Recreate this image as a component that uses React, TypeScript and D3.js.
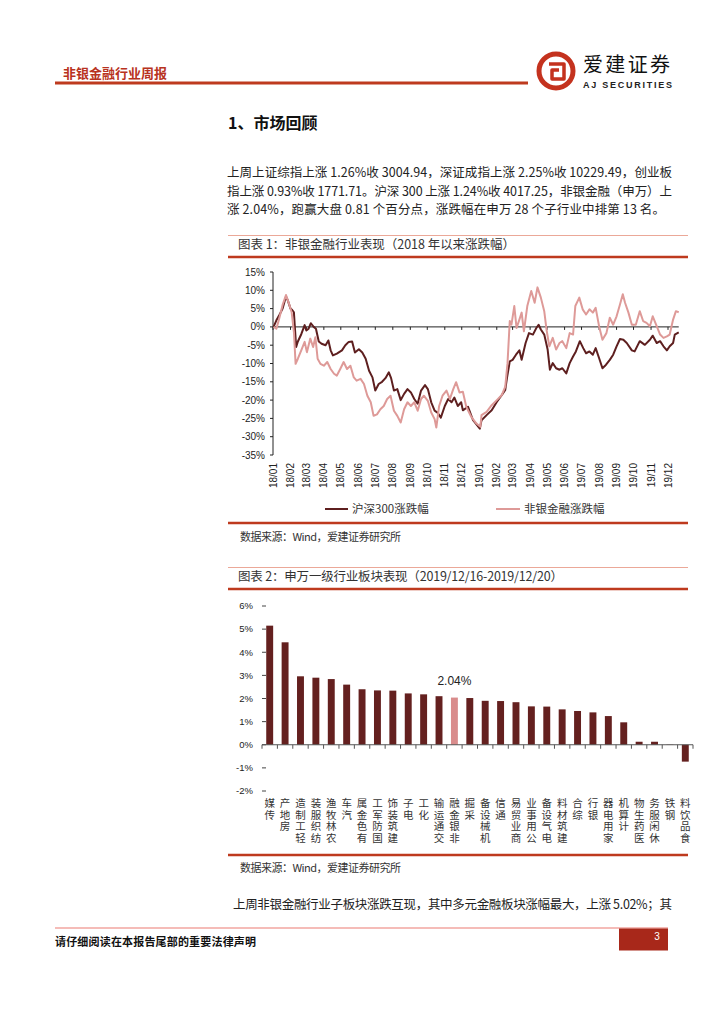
import React from 'react';
import * as d3 from 'd3';

// ---------- Data ----------
const paragraphLines = [
  '上周上证综指上涨 1.26%收 3004.94，深证成指上涨 2.25%收 10229.49，创业板',
  '指上涨 0.93%收 1771.71。沪深 300 上涨 1.24%收 4017.25，非银金融（申万）上',
  '涨 2.04%，跑赢大盘 0.81 个百分点，涨跌幅在申万 28 个子行业中排第 13 名。',
];

const monthLabels = [
  '18/01', '18/02', '18/03', '18/04', '18/05', '18/06', '18/07', '18/08', '18/09', '18/10', '18/11', '18/12',
  '19/01', '19/02', '19/03', '19/04', '19/05', '19/06', '19/07', '19/08', '19/09', '19/10', '19/11', '19/12',
];
const yTicks1 = [15, 10, 5, 0, -5, -10, -15, -20, -25, -30, -35];

const hs300Series: [string, number][] = [
  ['2018-01-02', 0], ['2018-01-07', 1.8], ['2018-01-12', 3.2], ['2018-01-18', 5.0], ['2018-01-24', 8.3],
  ['2018-01-27', 7.3], ['2018-02-01', 5.0], ['2018-02-04', 4.6], ['2018-02-07', 4.0], ['2018-02-11', -5.5],
  ['2018-02-14', -4.0], ['2018-02-20', -2.0], ['2018-02-26', 0.5], ['2018-03-01', -1.0], ['2018-03-05', -0.5],
  ['2018-03-09', 1.0], ['2018-03-14', 0], ['2018-03-18', -0.5], ['2018-03-23', -4.0], ['2018-03-28', -4.6],
  ['2018-04-04', -5.0], ['2018-04-09', -3.7], ['2018-04-13', -6.4], ['2018-04-17', -7.8], ['2018-04-24', -7.3],
  ['2018-05-03', -6.4], ['2018-05-09', -5.0], ['2018-05-15', -4.1], ['2018-05-21', -4.0], ['2018-05-26', -7.0],
  ['2018-06-02', -6.1], ['2018-06-08', -7.0], ['2018-06-14', -8.7], ['2018-06-20', -12.0], ['2018-06-26', -13.8],
  ['2018-07-01', -17.4], ['2018-07-07', -15.6], ['2018-07-13', -15.0], ['2018-07-19', -14.0], ['2018-07-25', -12.4],
  ['2018-07-29', -14.0], ['2018-08-03', -17.4], ['2018-08-09', -17.0], ['2018-08-15', -20.0], ['2018-08-21', -18.3],
  ['2018-08-27', -17.0], ['2018-09-02', -17.9], ['2018-09-08', -19.7], ['2018-09-14', -21.0], ['2018-09-20', -17.4],
  ['2018-09-27', -15.9], ['2018-10-02', -17.0], ['2018-10-08', -20.6], ['2018-10-14', -22.9], ['2018-10-19', -23.4],
  ['2018-10-25', -24.8], ['2018-11-01', -21.6], ['2018-11-07', -19.7], ['2018-11-13', -20.6], ['2018-11-18', -19.3],
  ['2018-11-24', -21.6], ['2018-11-30', -20.6], ['2018-12-03', -22.8], ['2018-12-12', -21.8], ['2018-12-21', -25.5],
  ['2019-01-02', -27.8], ['2019-01-05', -25.5], ['2019-01-14', -24.1], ['2019-01-23', -22.8], ['2019-02-01', -20.5],
  ['2019-02-10', -18.6], ['2019-02-16', -17.2], ['2019-02-19', -14.0], ['2019-02-24', -9.4], ['2019-03-01', -9.0],
  ['2019-03-07', -7.6], ['2019-03-13', -6.4], ['2019-03-17', -9.0], ['2019-03-24', -4.4], ['2019-03-30', -1.7],
  ['2019-04-06', -2.1], ['2019-04-12', -0.3], ['2019-04-16', 0.6], ['2019-04-20', -0.7], ['2019-04-26', -2.1],
  ['2019-05-02', -6.2], ['2019-05-06', -11.7], ['2019-05-11', -9.9], ['2019-05-17', -11.3], ['2019-05-23', -11.7],
  ['2019-05-28', -11.3], ['2019-06-04', -12.7], ['2019-06-10', -9.9], ['2019-06-16', -8.1], ['2019-06-21', -6.7],
  ['2019-06-28', -3.9], ['2019-07-04', -5.8], ['2019-07-09', -7.2], ['2019-07-15', -6.7], ['2019-07-21', -7.6],
  ['2019-07-26', -5.8], ['2019-08-01', -8.5], ['2019-08-07', -11.3], ['2019-08-13', -10.4], ['2019-08-20', -9.0],
  ['2019-08-26', -7.6], ['2019-09-01', -5.3], ['2019-09-07', -3.3], ['2019-09-13', -3.5], ['2019-09-19', -4.4],
  ['2019-09-28', -6.4], ['2019-10-03', -6.7], ['2019-10-12', -3.9], ['2019-10-21', -4.9], ['2019-10-30', -3.5],
  ['2019-11-04', -2.4], ['2019-11-11', -4.4], ['2019-11-17', -3.9], ['2019-11-23', -5.3], ['2019-11-29', -6.4],
  ['2019-12-04', -5.3], ['2019-12-10', -4.4], ['2019-12-13', -2.1], ['2019-12-20', -1.5],
];

const nonBankSeries: [string, number][] = [
  ['2018-01-02', 0], ['2018-01-07', -0.5], ['2018-01-12', 2.3], ['2018-01-18', 6.0], ['2018-01-24', 8.7],
  ['2018-01-30', 6.0], ['2018-02-03', 4.0], ['2018-02-07', -1.4], ['2018-02-10', -10.1], ['2018-02-14', -8.7],
  ['2018-02-20', -6.4], ['2018-02-26', -4.1], ['2018-03-02', -6.9], ['2018-03-08', -3.2], ['2018-03-13', -5.5],
  ['2018-03-17', -2.8], ['2018-03-21', -8.7], ['2018-03-26', -10.1], ['2018-04-01', -10.6], ['2018-04-07', -9.6],
  ['2018-04-13', -11.5], ['2018-04-19', -12.8], ['2018-04-24', -13.3], ['2018-04-30', -11.5], ['2018-05-06', -9.6],
  ['2018-05-12', -11.5], ['2018-05-18', -10.6], ['2018-05-24', -13.8], ['2018-05-29', -14.7], ['2018-06-05', -14.2],
  ['2018-06-11', -15.6], ['2018-06-17', -18.8], ['2018-06-23', -20.6], ['2018-06-28', -24.3], ['2018-07-04', -23.9],
  ['2018-07-10', -22.5], ['2018-07-16', -21.6], ['2018-07-22', -19.7], ['2018-07-28', -18.8], ['2018-08-03', -22.9],
  ['2018-08-09', -24.3], ['2018-08-15', -26.1], ['2018-08-21', -22.5], ['2018-08-27', -20.6], ['2018-09-02', -21.6],
  ['2018-09-08', -20.6], ['2018-09-14', -22.9], ['2018-09-20', -19.7], ['2018-09-25', -18.8], ['2018-10-02', -20.2],
  ['2018-10-08', -23.4], ['2018-10-14', -25.2], ['2018-10-17', -27.5], ['2018-10-22', -21.6], ['2018-10-28', -18.8],
  ['2018-11-04', -17.4], ['2018-11-10', -19.7], ['2018-11-16', -17.0], ['2018-11-21', -15.1], ['2018-11-27', -17.9],
  ['2018-12-03', -17.7], ['2018-12-09', -21.8], ['2018-12-18', -24.6], ['2018-12-27', -26.4], ['2019-01-03', -27.3],
  ['2019-01-05', -24.1], ['2019-01-14', -23.2], ['2019-01-23', -21.4], ['2019-02-01', -20.0], ['2019-02-10', -18.6],
  ['2019-02-16', -16.3], ['2019-02-20', -9.9], ['2019-02-24', 1.6], ['2019-02-27', 0.6], ['2019-03-04', 5.7],
  ['2019-03-08', -0.3], ['2019-03-13', 2.0], ['2019-03-17', 3.9], ['2019-03-21', -1.2], ['2019-03-27', 5.7],
  ['2019-04-03', 9.8], ['2019-04-09', 6.6], ['2019-04-14', 10.8], ['2019-04-20', 8.0], ['2019-04-26', 4.3],
  ['2019-04-30', -0.7], ['2019-05-05', -5.3], ['2019-05-11', -3.0], ['2019-05-17', -6.2], ['2019-05-23', -4.4],
  ['2019-05-28', -3.9], ['2019-06-04', -5.8], ['2019-06-10', -1.7], ['2019-06-16', -2.1], ['2019-06-20', 5.7],
  ['2019-06-27', 8.0], ['2019-07-03', 4.8], ['2019-07-09', 3.4], ['2019-07-15', 4.8], ['2019-07-21', 3.9],
  ['2019-07-26', 5.2], ['2019-08-01', 0.2], ['2019-08-07', -3.5], ['2019-08-14', -1.7], ['2019-08-20', 2.5],
  ['2019-08-26', 0.6], ['2019-09-01', 2.9], ['2019-09-07', 6.1], ['2019-09-12', 8.9], ['2019-09-16', 6.6],
  ['2019-09-22', 3.9], ['2019-09-28', 0.6], ['2019-10-05', 0.6], ['2019-10-12', 4.3], ['2019-10-18', 1.6],
  ['2019-10-24', 1.1], ['2019-10-30', 0.2], ['2019-11-04', 2.9], ['2019-11-11', 0.2], ['2019-11-17', -2.1],
  ['2019-11-23', -3.0], ['2019-11-29', -2.6], ['2019-12-04', -2.1], ['2019-12-10', 2.0], ['2019-12-15', 4.3],
  ['2019-12-20', 4.0],
];

const industries = [
  '传媒', '房地产', '轻工制造', '纺织服装', '农林牧渔', '汽车', '有色金属', '国防军工', '建筑装饰', '电子',
  '化工', '交通运输', '非银金融', '采掘', '机械设备', '通信', '商业贸易', '公用事业', '电气设备', '建筑材料',
  '综合', '银行', '家用电器', '计算机', '医药生物', '休闲服务', '钢铁', '食品饮料',
];
const industryChanges = [
  5.15, 4.43, 2.96, 2.90, 2.84, 2.60, 2.40, 2.35, 2.34, 2.22,
  2.18, 2.10, 2.04, 2.02, 1.90, 1.89, 1.84, 1.66, 1.65, 1.53,
  1.46, 1.40, 1.24, 0.97, 0.13, 0.13, 0.01, -0.73,
];
const yTicks2 = [6, 5, 4, 3, 2, 1, 0, -1, -2];
const highlightIndustry = '非银金融';

// ---------- Styles ----------
const CJK = '"Noto Sans CJK SC", "Noto Sans", sans-serif';
const LAT = '"Liberation Sans", Arial, sans-serif';
const RED = '#BE3A1E';
const DARK = '#5E1F1F';
const PINK = '#DE9A98';
const BAR = '#64201F';
const BAR_HI = '#D98C8C';

const parseDate = d3.timeParse('%Y-%m-%d');

export default function App() {
  // Chart 1 scales
  const x1 = d3.scaleTime().domain([new Date(2018, 0, 1), new Date(2019, 11, 1)]).range([273, 668]);
  const y1 = d3.scaleLinear().domain([-35, 15]).range([455, 272]);
  const line1 = d3
    .line<[string, number]>()
    .x((d) => x1(parseDate(d[0]) as Date))
    .y((d) => y1(d[1]));
  const monthDates = monthLabels.map((_, i) => new Date(2018, i, 1));
  const xEnd = x1(parseDate(hs300Series[hs300Series.length - 1][0]) as Date);

  // Chart 2 scales
  const x2 = d3.scaleBand<string>().domain(industries).range([262, 693]).paddingInner(0.55).paddingOuter(0.275);
  const y2 = d3.scaleLinear().domain([-2, 6]).range([791, 606]);
  const step = x2.step();
  const hiIndex = industries.indexOf(highlightIndustry);

  return (
    <svg
      width={724}
      height={1024}
      viewBox="0 0 724 1024"
      style={{ position: 'absolute', left: 0, top: 0, background: '#fff' }}
    >
      <rect x={0} y={0} width={724} height={1024} fill="#fff" />

      {/* Header */}
      <text x={63} y={78} fontFamily={CJK} fontSize={13} fontWeight={700} fill="#B83220">
        非银金融行业周报
      </text>
      <line x1={55} x2={528} y1={83} y2={83} stroke={RED} strokeWidth={3} />
      <g>
        <circle cx={556} cy={71} r={17} fill="none" stroke="#C4321E" strokeWidth={5} />
        <path
          d="M 549 64 L 564 64 L 564 79 L 552 79 L 552 70 L 559 70"
          fill="none"
          stroke="#C4321E"
          strokeWidth={3.5}
          strokeLinejoin="round"
        />
      </g>
      <text x={583} y={72} fontFamily={CJK} fontSize={20} fill="#111" textLength={87} lengthAdjust="spacing">
        爱建证券
      </text>
      <text x={583} y={88} fontFamily={LAT} fontSize={9} fontWeight={700} fill="#222" textLength={89} lengthAdjust="spacing">
        AJ SECURITIES
      </text>

      {/* Section title */}
      <text x={228} y={129} fontFamily={CJK} fontSize={16} fontWeight={700} fill="#111">
        1、市场回顾
      </text>
      {paragraphLines.map((t, i) => (
        <text
          key={i}
          x={227}
          y={177 + i * 18.7}
          fontFamily={CJK}
          fontSize={12.5}
          fill="#222"
          textLength={i < 2 ? 445 : 438}
          lengthAdjust="spacing"
        >
          {t}
        </text>
      ))}

      {/* Chart 1 title block */}
      <line x1={228} x2={688} y1={235.5} y2={235.5} stroke="#EBA898" strokeWidth={1} />
      <text x={238} y={248.5} fontFamily={CJK} fontSize={12.5} fill="#333" textLength={277} lengthAdjust="spacing">
        图表 1：非银金融行业表现（2018 年以来涨跌幅）
      </text>
      <line x1={228} x2={688} y1={257} y2={257} stroke={RED} strokeWidth={2.5} />

      {/* Chart 1 axes */}
      <line x1={273} x2={273} y1={y1(15)} y2={y1(-35)} stroke="#222" strokeWidth={1} />
      {yTicks1.map((t) => (
        <g key={t}>
          <line x1={270} x2={273} y1={y1(t)} y2={y1(t)} stroke="#222" strokeWidth={1} />
          <text x={265} y={y1(t)} dy="0.35em" textAnchor="end" fontFamily={LAT} fontSize={10} fill="#222">
            {`${t}%`}
          </text>
        </g>
      ))}
      <line x1={273} x2={xEnd} y1={y1(0)} y2={y1(0)} stroke="#222" strokeWidth={1} />
      {monthDates.map((d, i) => (
        <g key={monthLabels[i]}>
          <line x1={x1(d)} x2={x1(d)} y1={y1(0)} y2={y1(0) + 3} stroke="#222" strokeWidth={1} />
          <text
            transform={`translate(${x1(d)},463) rotate(-90)`}
            dy="0.35em"
            textAnchor="end"
            fontFamily={LAT}
            fontSize={10}
            fill="#222"
          >
            {monthLabels[i]}
          </text>
        </g>
      ))}
      <path d={line1(hs300Series) || ''} fill="none" stroke={DARK} strokeWidth={2} strokeLinejoin="round" />
      <path d={line1(nonBankSeries) || ''} fill="none" stroke={PINK} strokeWidth={2} strokeLinejoin="round" />

      {/* Chart 1 legend */}
      <line x1={325} x2={348} y1={509} y2={509} stroke={DARK} strokeWidth={2} />
      <text x={352} y={513} fontFamily={CJK} fontSize={11.5} fill="#333">
        沪深300涨跌幅
      </text>
      <line x1={496} x2={520} y1={509} y2={509} stroke={PINK} strokeWidth={2} />
      <text x={524} y={513} fontFamily={CJK} fontSize={11.5} fill="#333">
        非银金融涨跌幅
      </text>
      <line x1={228} x2={688} y1={523} y2={523} stroke={RED} strokeWidth={2.5} />
      <text x={240} y={541} fontFamily={CJK} fontSize={11} fill="#333" textLength={161} lengthAdjust="spacing">
        数据来源：Wind，爱建证券研究所
      </text>

      {/* Chart 2 title block */}
      <line x1={228} x2={688} y1={567.5} y2={567.5} stroke="#EBA898" strokeWidth={1} />
      <text x={238} y={580.5} fontFamily={CJK} fontSize={12.5} fill="#333" textLength={325} lengthAdjust="spacing">
        图表 2：申万一级行业板块表现（2019/12/16-2019/12/20）
      </text>
      <line x1={228} x2={688} y1={589} y2={589} stroke={RED} strokeWidth={2.5} />

      {/* Chart 2 axes */}
      {yTicks2.map((t) => (
        <g key={t}>
          <line x1={262} x2={266} y1={y2(t)} y2={y2(t)} stroke="#444" strokeWidth={1} />
          <text x={253} y={y2(t)} dy="0.35em" textAnchor="end" fontFamily={LAT} fontSize={9.5} fill="#222">
            {`${t}%`}
          </text>
        </g>
      ))}
      {industries.map((c, i) => (
        <rect
          key={c}
          x={x2(c)}
          y={y2(Math.max(0, industryChanges[i]))}
          width={x2.bandwidth()}
          height={Math.abs(y2(industryChanges[i]) - y2(0))}
          fill={c === highlightIndustry ? BAR_HI : BAR}
        />
      ))}
      <line x1={262} x2={693} y1={y2(0)} y2={y2(0)} stroke="#555" strokeWidth={1} />
      {d3.range(industries.length + 1).map((i) => (
        <line
          key={i}
          x1={262 + i * step}
          x2={262 + i * step}
          y1={y2(0)}
          y2={y2(0) + 4}
          stroke="#555"
          strokeWidth={1}
        />
      ))}
      <text
        x={(x2(highlightIndustry) as number) + x2.bandwidth() / 2}
        y={y2(industryChanges[hiIndex]) - 13}
        textAnchor="middle"
        fontFamily={LAT}
        fontSize={12}
        fill="#222"
      >
        {`${industryChanges[hiIndex].toFixed(2)}%`}
      </text>
      {industries.map((c) => {
        const cx = (x2(c) as number) + x2.bandwidth() / 2;
        const reversed = Array.from(c).reverse().join('');
        return (
          <text
            key={c}
            x={cx}
            y={798}
            textAnchor="start"
            fontFamily={CJK}
            fontSize={10.5}
            fill="#333"
            style={{ writingMode: 'vertical-rl', letterSpacing: '1.1px' }}
          >
            {reversed}
          </text>
        );
      })}
      <line x1={228} x2={688} y1={855} y2={855} stroke={RED} strokeWidth={2.5} />
      <text x={240} y={872} fontFamily={CJK} fontSize={11} fill="#333" textLength={161} lengthAdjust="spacing">
        数据来源：Wind，爱建证券研究所
      </text>

      {/* Following paragraph */}
      <text x={233} y={909} fontFamily={CJK} fontSize={12.5} fill="#222" textLength={439} lengthAdjust="spacing">
        上周非银金融行业子板块涨跌互现，其中多元金融板块涨幅最大，上涨 5.02%；其
      </text>

      {/* Footer */}
      <line x1={55} x2={668} y1={928} y2={928} stroke="#F2A6A0" strokeWidth={1.5} />
      <text x={55} y={946} fontFamily={CJK} fontSize={11} fontWeight={700} fill="#111" textLength={201} lengthAdjust="spacing">
        请仔细阅读在本报告尾部的重要法律声明
      </text>
      <rect x={619} y={928.5} width={49} height={22} fill="#A8281A" />
      <text x={657} y={940} fontFamily={LAT} fontSize={10} fill="#fff" textAnchor="middle">
        3
      </text>
    </svg>
  );
}
